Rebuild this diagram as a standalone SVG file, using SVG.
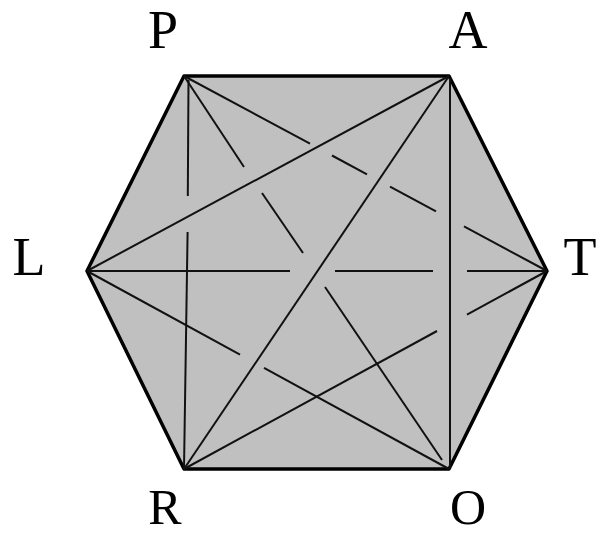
<svg xmlns="http://www.w3.org/2000/svg" width="599" height="536" viewBox="0 0 599 536">
<style>
.hex{fill:#c0c0c0;stroke:#000;stroke-width:3.5;stroke-linejoin:round}
.d{stroke:#111;stroke-width:2;fill:none;stroke-linecap:butt}
.lbl{fill:#000;text-anchor:middle}
</style>
<rect width="599" height="536" fill="#fff"/>
<polygon id="hexagon" class="hex" points="184,76 449,76 547,271 449,469 184,469 87,271"/>
<g id="connectors">
<line class="d" x1="449" y1="76" x2="87" y2="271"/>
<line class="d" x1="449" y1="76" x2="184" y2="469"/>
<line class="d" x1="450" y1="78" x2="450" y2="469"/>
<line class="d" x1="188.5" y1="80" x2="187.8" y2="196"/>
<line class="d" x1="187.6" y1="232" x2="184" y2="469"/>
<line class="d" x1="184" y1="76" x2="310" y2="143.7"/>
<line class="d" x1="332" y1="155.5" x2="367" y2="174.3"/>
<line class="d" x1="390" y1="186.6" x2="436" y2="211.4"/>
<line class="d" x1="464" y1="226.4" x2="547" y2="271"/>
<line class="d" x1="184" y1="76" x2="244" y2="167"/>
<line class="d" x1="262" y1="193" x2="303" y2="253"/>
<line class="d" x1="325" y1="287" x2="442" y2="460"/>
<line class="d" x1="87" y1="271" x2="290" y2="271"/>
<line class="d" x1="335" y1="271" x2="433" y2="271"/>
<line class="d" x1="467" y1="271" x2="547" y2="271"/>
<line class="d" x1="87" y1="271" x2="240" y2="354.7"/>
<line class="d" x1="264" y1="367.8" x2="449" y2="469"/>
<line class="d" x1="547" y1="271" x2="467" y2="314.6"/>
<line class="d" x1="437" y1="331" x2="184" y2="469"/>
</g>
<g font-family="'Liberation Serif', 'Times New Roman', Times, serif" font-size="54">
<g id="node-P"><text class="lbl" x="163" y="48">P</text></g>
<g id="node-A"><text class="lbl" x="468" y="48">A</text></g>
<g id="node-L"><text class="lbl" x="29" y="275">L</text></g>
<g id="node-T"><text class="lbl" x="580" y="275">T</text></g>
<g id="node-R"><text class="lbl" x="165" y="524" font-size="50">R</text></g>
<g id="node-O"><text class="lbl" x="468" y="524" font-size="50">O</text></g>
</g>
</svg>
